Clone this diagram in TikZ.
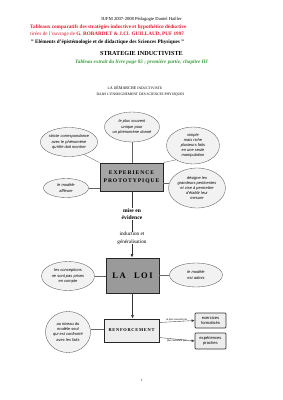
\documentclass[tikz,border=0pt]{standalone}
\usepackage{fontspec}
\setmainfont{Liberation Serif}
\newfontfamily\arialfont{Liberation Sans}
\usetikzlibrary{shapes.geometric,arrows.meta}
\definecolor{titlered}{HTML}{E41B2C}
\definecolor{titlegreen}{HTML}{3C9A3C}
\definecolor{ellfill}{HTML}{F2F2F2}
\definecolor{boxA}{HTML}{A6A6A6}
\definecolor{boxB}{HTML}{9A9A9A}
\definecolor{boxC}{HTML}{EDEDED}
\begin{document}
\begin{tikzpicture}[x=1pt,y=-1pt,
  bubble/.style={ellipse,draw=black!65,line width=0.35pt,fill=ellfill,inner sep=0pt,align=center,
    font=\arialfont\itshape\fontsize{4.0}{5.1}\selectfont},
  mainbox/.style={rectangle,draw=black!85,line width=0.9pt,inner sep=0pt,align=center},
  smallbox/.style={rectangle,rounded corners=0.8pt,draw=black!80,line width=0.7pt,fill=boxC,inner sep=0pt,align=center,
    font=\arialfont\fontsize{4.1}{5}\selectfont},
  link/.style={draw=black!60,line width=0.35pt},
  flow/.style={draw=black!80,line width=0.6pt},
  arr/.style={flow,-{Latex[length=3.5pt,width=3pt]}},
  lbl/.style={inner sep=0pt,align=center,font=\fontsize{5.6}{7.8}\selectfont\bfseries}
]
\useasboundingbox (0,0) rectangle (283,400);

% header
\node[inner sep=0pt,font=\fontsize{4.6}{5}\selectfont] (hdr) at (141.5,19) {IUFM 2007-2008 Pédagogie Daniel Hailler};
\node[inner sep=0pt,anchor=west,text=titlered,font=\fontsize{5.2}{6}\selectfont\bfseries] (t1) at (30,27) {Tableaux comparatifs des stratégies inductive et hypothético déductive};
\node[inner sep=0pt,anchor=west,text=titlered,font=\fontsize{5.2}{6}\selectfont] (t2) at (30,34.5) {tirées de l'ouvrage de \textbf{G. ROBARDET \& J.Cl. GUILLAUD, PUF 1997}};
\node[inner sep=0pt,anchor=west,font=\fontsize{5.2}{6}\selectfont\bfseries] (t3) at (31,42) {" Eléments d'épistémologie et de didactique des Sciences Physiques "};
\node[inner sep=0pt,font=\fontsize{6.2}{7}\selectfont\bfseries] (t4) at (141.5,53) {STRATEGIE INDUCTIVISTE};
\node[inner sep=0pt,text=titlegreen,font=\fontsize{5.2}{6}\selectfont\bfseries\itshape] (t5) at (141.5,62) {Tableau extrait du livre page 85 ; première partie, chapitre III};
\node[inner sep=0pt,font=\fontsize{3.6}{4}\selectfont] (d1) at (135,87.5) {L{\fontsize{4.1}{4}\selectfont A} D{\fontsize{4.1}{4}\selectfont ÉMARCHE} INDUCTIVISTE};
\node[inner sep=0pt,font=\fontsize{3.6}{4}\selectfont] (d2) at (140.5,94.5) {DANS L'ENSEIGNEMENT DES SCIENCES PHYSIQUES};

% central box
\node[mainbox,fill=boxA,minimum width=63pt,minimum height=28pt,
  font=\fontsize{5.6}{8}\selectfont\bfseries] (exp) at (131.5,177)
  {E\,X\,P\,E\,R\,I\,E\,N\,C\,E\\P\,R\,O\,T\,O\,T\,Y\,P\,I\,Q\,U\,E};

\node[bubble,minimum width=55pt,minimum height=30pt] (e1) at (132,127) {le plus souvent\\unique pour\\un phénomène donné};
\node[bubble,minimum width=52pt,minimum height=29pt] (e2) at (69,142) {stricte correspondance\\avec le phénomène\\qu'elle doit montrer};
\node[bubble,minimum width=53pt,minimum height=37pt] (e3) at (193,145.5) {simple\\mais riche\\plusieurs faits\\en une seule\\manipulation};
\node[bubble,minimum width=57pt,minimum height=40pt] (e4) at (197,188) {désigne les\\grandeurs pertinentes\\et vise à permettre\\d'établir leur\\mesure};
\node[bubble,minimum width=45pt,minimum height=19pt] (e5) at (66,188) {le modèle\\affleure};

\draw[link] (e1.south) -- (e1.south |- exp.north);
\draw[link] (e2.-40) -- (exp.north west);
\draw[link] (e3.-140) -- (exp.north east);
\draw[link] (e5.east) -- (e5.east -| exp.west);
\draw[link] (exp.east |- e4.170) -- (e4.170);

% middle labels
\node[lbl] (mise) at (132,214) {mise en\\évidence};
\node[lbl,font=\fontsize{5.2}{7.6}\selectfont] (ind) at (132,238) {induction et\\généralisation};
\coordinate (expb) at (132,191);
\draw[flow] (expb) -- (mise.north);
\draw[flow] (mise.south) -- (ind.north);

% LA LOI
\node[mainbox,fill=boxB,minimum width=53pt,minimum height=35pt,
  font=\fontsize{8.5}{9}\selectfont\bfseries] (loi) at (132.5,275.5) {L\,A\quad L\,O\,I};
\draw[arr] (ind.south) -- (ind.south |- loi.north);

\node[bubble,minimum width=53pt,minimum height=29pt] (e6) at (68,276) {les conceptions\\ne sont pas prises\\en compte};
\node[bubble,minimum width=53pt,minimum height=24pt] (e7) at (196,275) {le modèle\\est admis};
\draw[link] (e6.east) -- (e6.east -| loi.west);
\draw[link] (loi.east |- e7.west) -- (e7.west);

% RENFORCEMENT
\node[mainbox,fill=boxC,minimum width=55pt,minimum height=23pt,
  font=\fontsize{4.4}{5}\selectfont\bfseries] (ren) at (131.5,330.5) {R\,E\,N\,F\,O\,R\,C\,E\,M\,E\,N\,T};
\draw[arr] (loi.south) -- (loi.south |- ren.north);

\node[bubble,minimum width=45pt,minimum height=41pt] (e8) at (68,332) {au niveau du\\modèle seul\\qui est confronté\\avec les faits};
\draw[link] (e8.east |- 0,329.5) -- (ren.west |- 0,329.5);

\node[smallbox,minimum width=31pt,minimum height=15pt] (b1) at (210.5,320.5) {exercices\\formalisés};
\node[smallbox,minimum width=31pt,minimum height=16pt] (b2) at (210.5,341) {expériences\\proches};

\coordinate (r1) at (159,322.5);
\coordinate (r2) at (159,337.5);
\draw[link,-{Latex[length=3pt,width=2.6pt]},draw=black!75] (r1) -- node[above=0.3pt,inner sep=0pt,font=\arialfont\fontsize{2.5}{3}\selectfont]{le plus souvent par} (b1.west);
\draw[link,-{Latex[length=3pt,width=2.6pt]},draw=black!75] (r2) -- node[below=0.6pt,inner sep=0pt,font=\arialfont\fontsize{2.5}{3}\selectfont]{plus rarement par} (b2.west);

\node[inner sep=0pt,font=\fontsize{3.5}{4}\selectfont] (pg) at (141.5,380) {1};
\end{tikzpicture}
\end{document}
